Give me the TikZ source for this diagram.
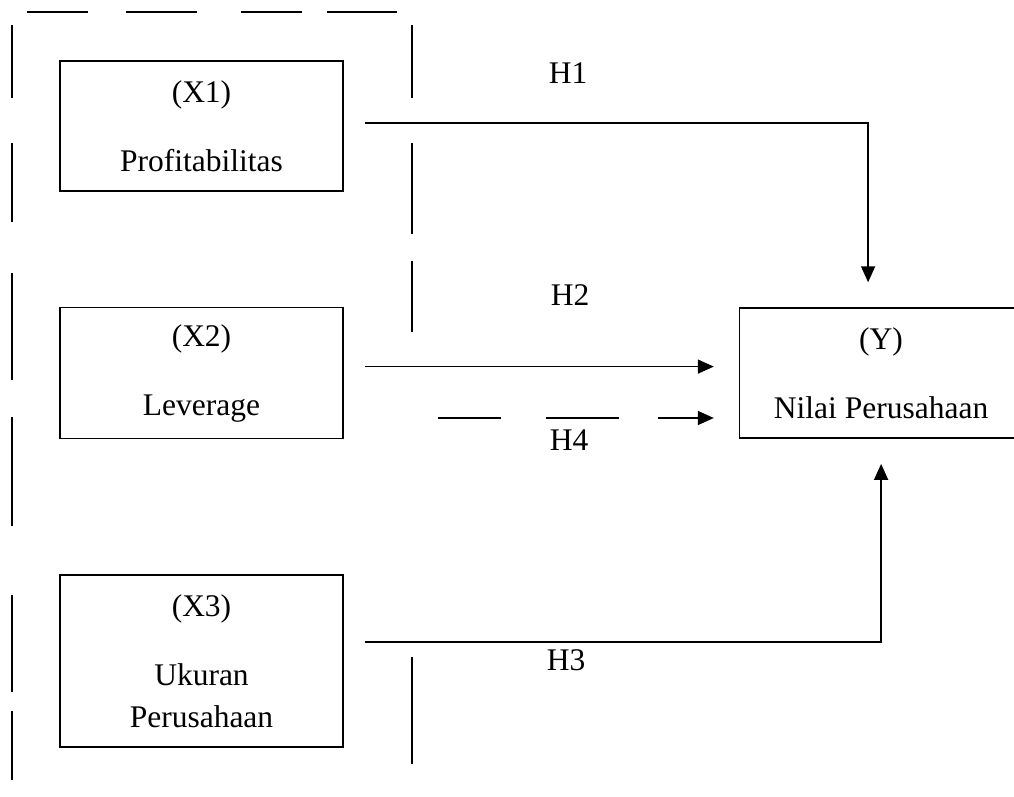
\documentclass[tikz,border=0pt]{standalone}
\usepackage{fontspec}
\setmainfont{Liberation Serif}
\usetikzlibrary{arrows.meta,positioning}

\begin{document}
\begin{tikzpicture}[
    x=1pt, y=1pt,
    node distance=115pt,
    box/.style={rectangle, draw, line width=1.6pt, minimum width=283pt, minimum height=130pt, inner sep=0pt, align=center, font=\fontsize{31.5}{42}\selectfont},
    lbl/.style={inner sep=0pt, font=\fontsize{31.5}{42}\selectfont},
    arrow/.style={-{Triangle[length=16pt,width=14pt]}, line width=1.6pt, shorten <=21pt, shorten >=25pt},
    frame/.style={line width=1.6pt}
]
\path[use as bounding box, clip] (0,0) rectangle (1014,796);

\node[box] (prof) at (201.5,670) {(X1)\\[27pt]Profitabilitas};
\node[box, minimum height=131pt, below=of prof] (lev) {(X2)\\[27pt]Leverage};
\node[box, minimum height=172pt, below=135pt of lev] (ukuran) {(X3)\\[27pt]Ukuran\\Perusahaan};
\node[box, right=395pt of lev] (nilai) {(Y)\\[27pt]Nilai Perusahaan};

% dashed frame
\foreach \a/\b in {27/88,126/197,241/302,327/397}
  \draw[frame] (\a,784) -- (\b,784);
\foreach \a/\b in {771/698,653/574,523/416,379/270,201/104,85/16}
  \draw[frame] (12,\a) -- (12,\b);
\foreach \a/\b in {771/698,653/562,535/464,139/32}
  \draw[frame] (412,\a) -- (412,\b);

\coordinate (h4start) at (438,378);

\draw[arrow] ([yshift=3pt]prof.east) -| ([xshift=-13pt]nilai.north);
\draw[arrow] ([yshift=6.5pt]lev.east) -- ([yshift=6.5pt]nilai.west);
\draw[arrow, shorten <=0pt, dash pattern=on 63pt off 45pt on 73pt off 39pt] (h4start) -- (nilai.west |- h4start);
\draw[arrow] ([yshift=19pt]ukuran.east) -| (nilai.south);

\node[lbl] (h1) at (568,723) {H1};
\node[lbl] (h2) at (570,501) {H2};
\node[lbl] (h4) at (569,356) {H4};
\node[lbl] (h3) at (566,136) {H3};
\end{tikzpicture}
\end{document}
